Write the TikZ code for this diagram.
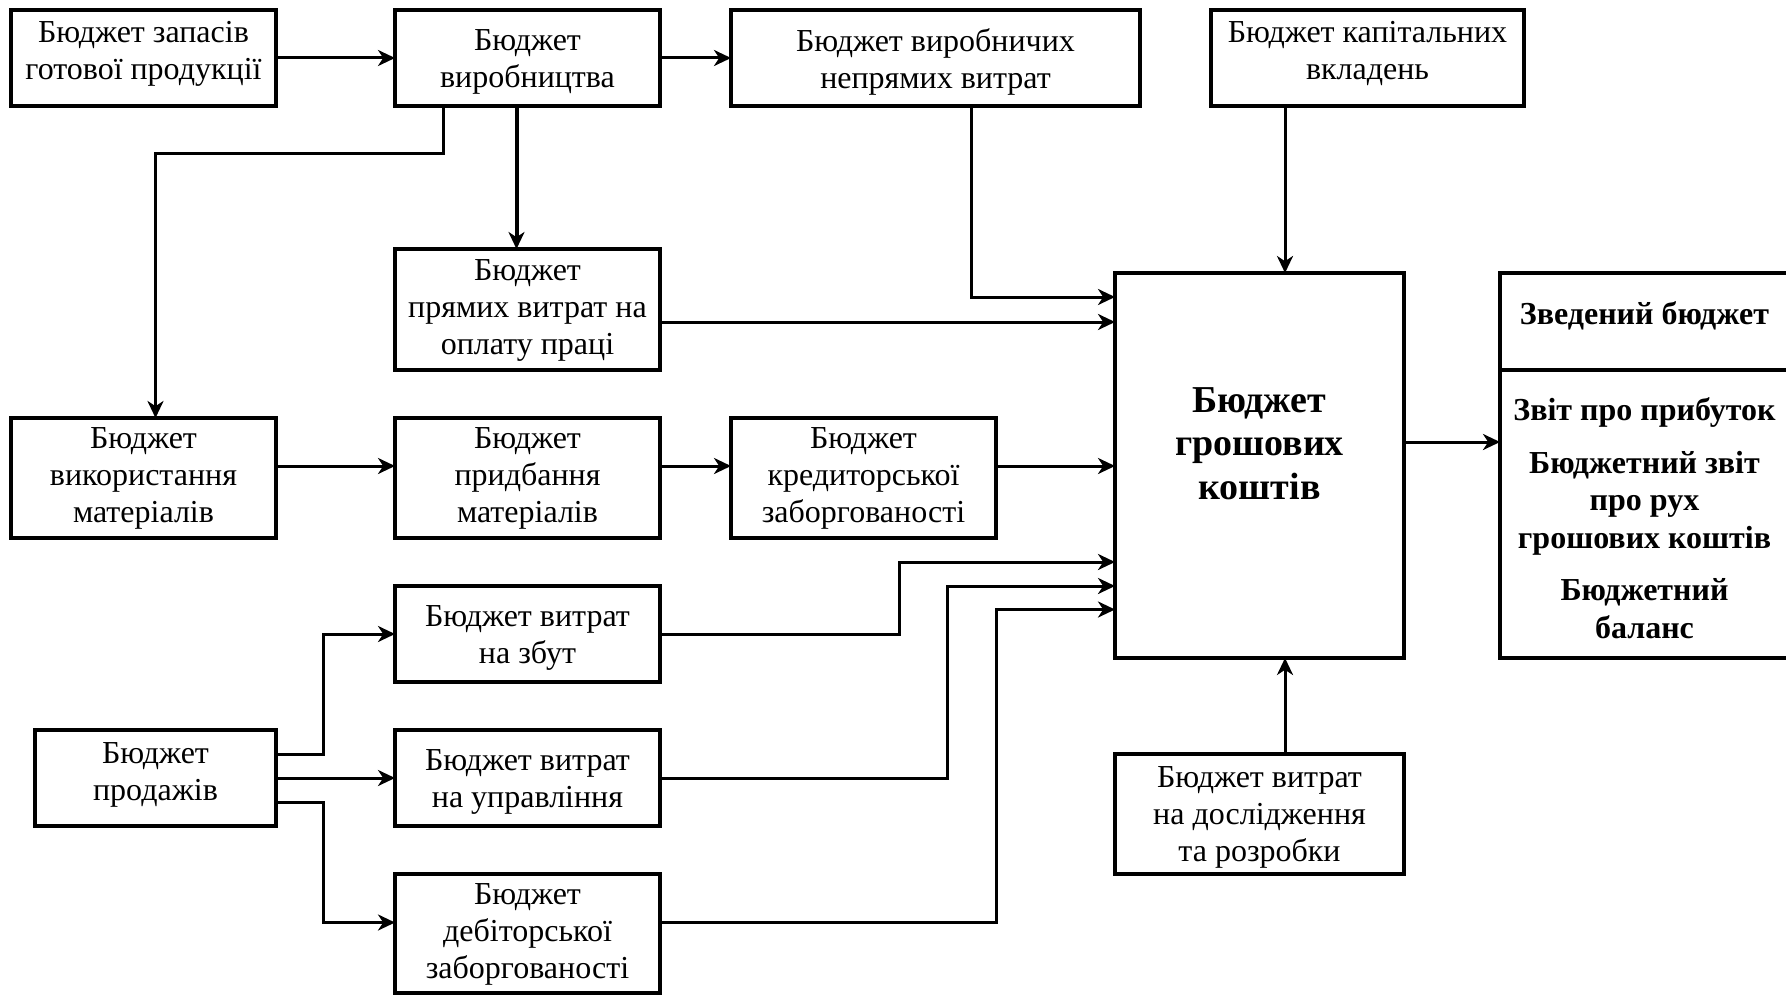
\documentclass[tikz,border=0pt]{standalone}
\usepackage{fontspec}
\setmainfont{Liberation Serif}
\usetikzlibrary{arrows.meta}
\newcommand\fsnorm{\fontsize{16}{18.5}\selectfont}
\newcommand\fsbig{\fontsize{19}{21.75}\selectfont\bfseries}
\newcommand\fsbold{\fontsize{16}{18.75}\selectfont\bfseries}
\begin{document}
\begin{tikzpicture}[x=0.5pt,y=-0.5pt,
  box/.style={draw, line width=1.6pt, inner sep=0pt, outer sep=0pt},
  lab/.style={align=center, font=\fsnorm},
  arr/.style={line width=1.5pt, -{Stealth[length=8.5pt,width=8pt,inset=2.6pt]}}]
\useasboundingbox (0,0) rectangle (1786,995);
% boxes
\node[box, minimum width=132.5pt, minimum height=48pt,
  label={[lab,yshift=2pt]center:Бюджет запасів\\готової продукції}] (A) at (143.5,58) {};
\node[box, minimum width=132.5pt, minimum height=48pt,
  label={[lab,yshift=-2pt]center:Бюджет\\виробництва}] (B) at (527.5,58) {};
\node[box, minimum width=204.5pt, minimum height=48pt,
  label={[lab,yshift=-2pt]center:Бюджет виробничих\\непрямих витрат}] (C) at (935.5,58) {};
\node[box, minimum width=156.5pt, minimum height=48pt,
  label={[lab,yshift=2pt]center:Бюджет капітальних\\вкладень}] (D) at (1367.5,58) {};
\node[box, minimum width=132.5pt, minimum height=60.5pt,
  label={[lab,yshift=-0.5pt]center:Бюджет\\прямих витрат на\\оплату праці}] (E) at (527.5,309.5) {};
\node[box, minimum width=132.5pt, minimum height=60pt,
  label={[lab]center:Бюджет\\використання\\матеріалів}] (F) at (143.5,478) {};
\node[box, minimum width=132.5pt, minimum height=60pt,
  label={[lab]center:Бюджет\\придбання\\матеріалів}] (G) at (527.5,478) {};
\node[box, minimum width=132.5pt, minimum height=60pt,
  label={[lab]center:Бюджет\\кредиторської\\заборгованості}] (H) at (863.5,478) {};
\node[box, minimum width=132.5pt, minimum height=48pt,
  label={[lab,yshift=-2pt]center:Бюджет витрат\\на збут}] (I) at (527.5,634) {};
\node[box, minimum width=120.5pt, minimum height=48pt,
  label={[lab,yshift=1.5pt]center:Бюджет\\продажів}] (J) at (155.5,778) {};
\node[box, minimum width=132.5pt, minimum height=48pt,
  label={[lab,yshift=-2pt]center:Бюджет витрат\\на управління}] (K) at (527.5,778) {};
\node[box, minimum width=132.5pt, minimum height=59.5pt,
  label={[lab,yshift=-0.7pt]center:Бюджет\\дебіторської\\заборгованості}] (L) at (527.5,933.5) {};
\node[box, minimum width=144.5pt, minimum height=192.5pt,
  label={[align=center,font=\fsbig,yshift=11pt]center:Бюджет\\грошових\\коштів}] (M) at (1259.5,465.5) {};
\node[box, minimum width=144.5pt, minimum height=60pt,
  label={[lab,yshift=-1.5pt]center:Бюджет витрат\\на дослідження\\та розробки}] (N) at (1259.5,814) {};
\node[box, minimum width=144.5pt, minimum height=48.5pt,
  label={[align=center,font=\fsbold,yshift=3pt]center:Зведений бюджет}] (Ot) at (1644.5,321.5) {};
\node[box, minimum width=144.5pt, minimum height=144pt,
  label={[align=center,font=\fsbold,yshift=-2pt]center:Звіт про прибуток\\[7.5pt]Бюджетний звіт\\про рух\\грошових коштів\\[7.5pt]Бюджетний\\баланс}] (Ob) at (1644.5,514) {};
% helper coordinates
\coordinate (e1) at ([yshift=-6.25pt]E.east);
\coordinate (f1) at ([yshift=6pt]F.east);
\coordinate (m1) at ([xshift=12.75pt]M.north);
\coordinate (m2) at ([xshift=12.75pt]M.south);
\coordinate (m3) at ([yshift=11.75pt]M.east);
\coordinate (l1) at ([yshift=5.5pt]L.east);
% connectors
\draw[arr] (A.east) -- (B.west);
\draw[arr] (B.east) -- (C.west);
\draw[arr, line width=2pt] ([xshift=-5.5pt]B.south) -- ([xshift=-5.5pt]E.north);
\draw[arr] ([xshift=-42.25pt]B.south) -- ++(0,47) -| ([xshift=6pt]F.north);
\draw[arr] ([xshift=18pt]C.south) |- ([yshift=84.25pt]M.west);
\draw[arr] (e1) -- (e1 -| M.west);
\draw[arr] (m1 |- D.south) -- (m1);
\draw[arr] (f1) -- (f1 -| G.west);
\draw[arr] (f1 -| G.east) -- (f1 -| H.west);
\draw[arr] (f1 -| H.east) -- (f1 -| M.west);
\draw[arr] (I.east) -- ++(239,0) |- ([yshift=-48.25pt]M.west);
\draw[arr] (K.east) -- ++(287,0) |- ([yshift=-60.25pt]M.west);
\draw[arr] (l1) -- ++(336,0) |- ([yshift=-72pt]M.west);
\draw[arr] (m2 |- N.north) -- (m2);
\draw[arr] (m3) -- (m3 -| Ob.west);
\draw[arr] ([yshift=12pt]J.east) -- ++(47,0) |- (I.west);
\draw[arr] (J.east) -- (K.west);
\draw[arr] ([yshift=-12pt]J.east) -- ++(47,0) |- ([yshift=5.5pt]L.west);
\end{tikzpicture}
\end{document}
